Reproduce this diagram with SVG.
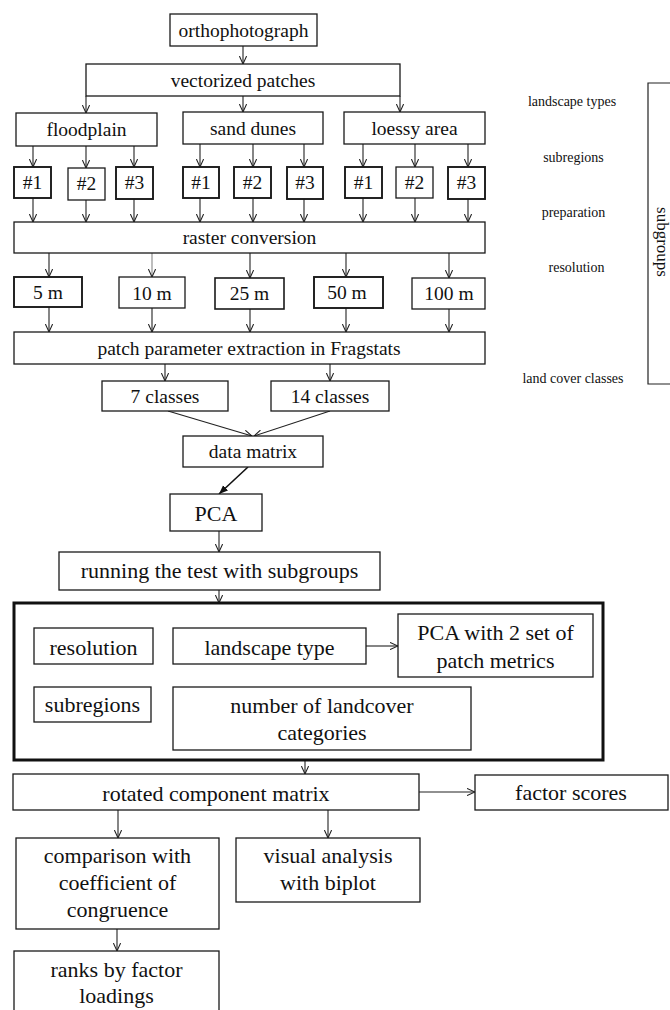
<svg xmlns="http://www.w3.org/2000/svg" width="670" height="1010" viewBox="0 0 670 1010">
<style>
.b{fill:#fff;stroke:#1a1a1a;stroke-width:1.3}
.k{stroke-width:1.9}
.t{font-family:"Liberation Serif","Times New Roman",serif;fill:#111;text-anchor:middle}
.m{font-size:19.5px}
.l{font-size:22px}
.s{font-size:14px}
.c{fill:none;stroke:#222;stroke-width:1.1;marker-end:url(#ah)}
</style>
<defs>
<marker id="ah" viewBox="0 0 10 10" refX="10" refY="5" markerWidth="8" markerHeight="8" markerUnits="userSpaceOnUse" orient="auto">
<path d="M0,0.5 L10,5 L0,9.5" fill="none" stroke="#222" stroke-width="1.3"/>
</marker>
<marker id="af" viewBox="0 0 10 10" refX="10" refY="5" markerWidth="9" markerHeight="9" markerUnits="userSpaceOnUse" orient="auto">
<path d="M0,1 L10,5 L0,9 Z" fill="#111"/>
</marker>
</defs>
<rect width="670" height="1010" fill="#fff"/>

<g id="connectors">
<path class="c" d="M243,46 V64"/>
<path class="c" d="M86,96 V113"/>
<path class="c" d="M243,96 V112"/>
<path class="c" d="M400,96 V112"/>
<path class="c" d="M33,146 V167"/>
<path class="c" d="M86,146 V168"/>
<path class="c" d="M134,146 V167"/>
<path class="c" d="M200,144 V167"/>
<path class="c" d="M253,144 V167"/>
<path class="c" d="M304,144 V167"/>
<path class="c" d="M363,144 V167"/>
<path class="c" d="M415,144 V167"/>
<path class="c" d="M468,144 V167"/>
<path class="c" d="M33,198 V222"/>
<path class="c" d="M86,200 V222"/>
<path class="c" d="M134,199 V222"/>
<path class="c" d="M200,198 V222"/>
<path class="c" d="M253,198 V222"/>
<path class="c" d="M304,199 V222"/>
<path class="c" d="M363,198 V222"/>
<path class="c" d="M415,198 V222"/>
<path class="c" d="M468,199 V222"/>
<path class="c" d="M49,253 V277"/>
<path class="c" d="M152,253 V277" style="stroke:#888"/>
<path class="c" d="M250,253 V278"/>
<path class="c" d="M346,253 V277"/>
<path class="c" d="M449,253 V278"/>
<path class="c" d="M49,307 V332"/>
<path class="c" d="M152,308 V332"/>
<path class="c" d="M250,309 V332"/>
<path class="c" d="M346,308 V332"/>
<path class="c" d="M449,309 V332"/>
<path class="c" d="M165,364 V381"/>
<path class="c" d="M330,364 V381"/>
<path class="c" d="M168,411 L252,436"/>
<path class="c" d="M330,411 L254,436"/>
<path d="M248,467 L219,494" fill="none" stroke="#111" stroke-width="1.6" marker-end="url(#af)"/>
<path class="c" d="M219,531 V552"/>
<path class="c" d="M219,590 V603"/>
<path class="c" d="M366,646 H398"/>
<path class="c" d="M305,761 V774"/>
<path class="c" d="M419,792 H475"/>
<path class="c" d="M118,810 V838"/>
<path class="c" d="M328,810 V838"/>
<path class="c" d="M117,929 V951"/>
</g>

<g id="orthophotograph"><rect class="b" x="170" y="14" width="147" height="32"/><text class="t m" x="243.5" y="37">orthophotograph</text></g>
<g id="vectorized"><rect class="b" x="86" y="64" width="314" height="32"/><text class="t m" x="243" y="87">vectorized patches</text></g>
<g id="floodplain"><rect class="b" x="16" y="113" width="141" height="33"/><text class="t m" x="86.5" y="136">floodplain</text></g>
<g id="sanddunes"><rect class="b" x="183" y="112" width="140" height="32"/><text class="t m" x="253" y="135">sand dunes</text></g>
<g id="loessy"><rect class="b" x="344" y="112" width="141" height="32"/><text class="t m" x="414.5" y="135">loessy area</text></g>

<g id="f1"><rect class="b k" x="14" y="167" width="37" height="31"/><text class="t m" x="32.5" y="189">#1</text></g>
<g id="f2"><rect class="b" x="68" y="168" width="37" height="32"/><text class="t m" x="86.5" y="190">#2</text></g>
<g id="f3"><rect class="b k" x="116" y="167" width="37" height="32"/><text class="t m" x="134.5" y="189">#3</text></g>
<g id="s1"><rect class="b k" x="183" y="167" width="36" height="31"/><text class="t m" x="201" y="189">#1</text></g>
<g id="s2"><rect class="b k" x="234" y="167" width="37" height="31"/><text class="t m" x="252.5" y="189">#2</text></g>
<g id="s3"><rect class="b k" x="287" y="167" width="36" height="32"/><text class="t m" x="305" y="189">#3</text></g>
<g id="l1"><rect class="b k" x="345" y="167" width="37" height="31"/><text class="t m" x="363.5" y="189">#1</text></g>
<g id="l2"><rect class="b" x="396" y="167" width="37" height="31"/><text class="t m" x="414.5" y="189">#2</text></g>
<g id="l3"><rect class="b k" x="448" y="167" width="37" height="32"/><text class="t m" x="466.5" y="189">#3</text></g>

<g id="raster"><rect class="b" x="14" y="222" width="471" height="31"/><text class="t m" x="249.5" y="244">raster conversion</text></g>

<g id="r5"><rect class="b k" x="14" y="277" width="68" height="30"/><text class="t m" x="48" y="299">5 m</text></g>
<g id="r10"><rect class="b" x="119" y="277" width="66" height="31"/><text class="t m" x="152" y="300">10 m</text></g>
<g id="r25"><rect class="b" x="215" y="278" width="69" height="31" style="stroke-width:1.6"/><text class="t m" x="249.5" y="300">25 m</text></g>
<g id="r50"><rect class="b k" x="314" y="277" width="69" height="31"/><text class="t m" x="347" y="299">50 m</text></g>
<g id="r100"><rect class="b" x="412" y="278" width="73" height="31"/><text class="t m" x="449" y="300">100 m</text></g>

<g id="fragstats"><rect class="b" x="14" y="332" width="471" height="32"/><text class="t m" x="249" y="355">patch parameter extraction in Fragstats</text></g>
<g id="c7"><rect class="b" x="102" y="381" width="126" height="30"/><text class="t m" x="165" y="403">7 classes</text></g>
<g id="c14"><rect class="b" x="271" y="381" width="118" height="30"/><text class="t m" x="330" y="403">14 classes</text></g>
<g id="datamatrix"><rect class="b" x="183" y="436" width="140" height="31"/><text class="t m" x="253" y="458">data matrix</text></g>
<g id="pca"><rect class="b" x="170" y="494" width="92" height="37"/><text class="t l" x="216" y="521">PCA</text></g>
<g id="running"><rect class="b" x="59" y="552" width="321" height="38"/><text class="t l" x="219.5" y="578">running the test with subgroups</text></g>

<g id="subgroupbox"><rect x="14" y="603" width="589" height="157" fill="none" stroke="#111" stroke-width="3"/></g>
<g id="resolutionbox"><rect class="b" x="34" y="628" width="119" height="36"/><text class="t l" x="93.5" y="655">resolution</text></g>
<g id="landscapetype"><rect class="b" x="173" y="628" width="193" height="36"/><text class="t l" x="269.5" y="655">landscape type</text></g>
<g id="pca2"><rect class="b" x="398" y="614" width="195" height="63"/><text class="t l" x="495.5" y="640">PCA with 2 set of</text><text class="t l" x="495.5" y="668">patch metrics</text></g>
<g id="subregionsbox"><rect class="b" x="34" y="687" width="117" height="35"/><text class="t l" x="92.5" y="712">subregions</text></g>
<g id="landcover"><rect class="b" x="173" y="687" width="298" height="63"/><text class="t l" x="322" y="713">number of landcover</text><text class="t l" x="322" y="740">categories</text></g>

<g id="rotated"><rect class="b" x="13" y="774" width="406" height="36"/><text class="t l" x="216" y="801">rotated component matrix</text></g>
<g id="factorscores"><rect class="b" x="475" y="775" width="193" height="35"/><text class="t l" x="571" y="800">factor scores</text></g>
<g id="comparison"><rect class="b" x="16" y="838" width="203" height="91"/><text class="t l" x="117.5" y="863">comparison with</text><text class="t l" x="117.5" y="890">coefficient of</text><text class="t l" x="117.5" y="917">congruence</text></g>
<g id="visual"><rect class="b" x="236" y="838" width="184" height="64"/><text class="t l" x="328" y="863">visual analysis</text><text class="t l" x="328" y="890">with biplot</text></g>
<g id="ranks"><rect class="b" x="14" y="951" width="205" height="64"/><text class="t l" x="116.5" y="977">ranks by factor</text><text class="t l" x="116.5" y="1003">loadings</text></g>

<g id="labels">
<text class="t s" x="572" y="106">landscape  types</text>
<text class="t s" x="573.5" y="162">subregions</text>
<text class="t s" x="573.5" y="217">preparation</text>
<text class="t s" x="576.5" y="272">resolution</text>
<text class="t s" x="573" y="383">land cover classes</text>
</g>
<g id="subgroups">
<path d="M670,83 H648 V384 H670" fill="none" stroke="#222" stroke-width="1.2"/>
<text class="t" x="0" y="0" font-size="17" transform="translate(657,242) rotate(90)">subgroups</text>
</g>
</svg>
